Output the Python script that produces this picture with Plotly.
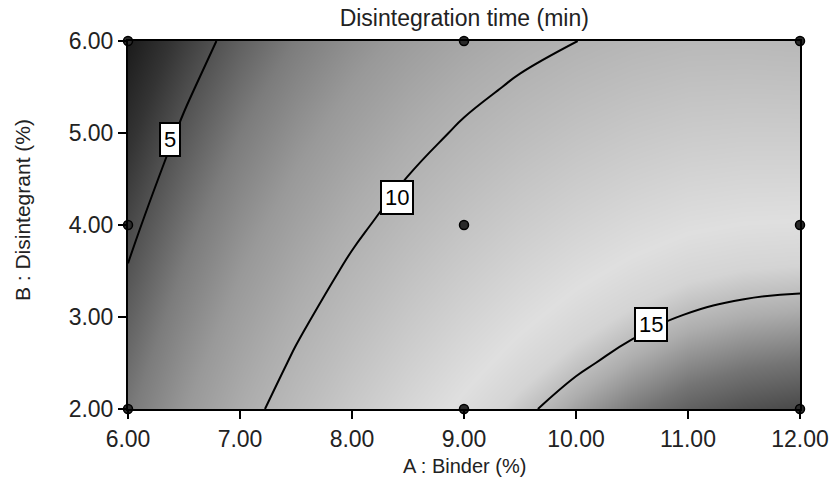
import plotly.graph_objects as go

# ---- data ----
binder = [6.0, 6.5, 7.0, 7.5, 8.0, 8.5, 9.0, 9.5, 10.0, 10.5, 11.0, 11.5, 12.0]   # A : Binder (%)
disintegrant = [2.0, 2.5, 3.0, 3.5, 4.0, 4.5, 5.0, 5.5, 6.0]                      # B : Disintegrant (%)
# Disintegration time (min); rows follow `disintegrant`, columns follow `binder`
time_min = [
    [6.33, 7.93, 9.42, 10.72, 11.91, 12.98, 13.93, 14.77, 15.49, 16.09, 16.58, 16.88, 17.06],
    [5.91, 7.48, 8.93, 10.20, 11.35, 12.39, 13.31, 14.12, 14.80, 15.37, 15.83, 16.09, 16.24],
    [5.49, 7.02, 8.44, 9.68, 10.80, 11.80, 12.69, 13.46, 14.12, 14.65, 15.07, 15.30, 15.42],
    [5.07, 6.57, 7.95, 9.16, 10.25, 11.22, 12.07, 12.81, 13.43, 13.93, 14.32, 14.52, 14.60],
    [4.65, 6.12, 7.47, 8.64, 9.69, 10.63, 11.45, 12.15, 12.74, 13.21, 13.56, 13.73, 13.78],
    [4.23, 5.66, 6.98, 8.12, 9.14, 10.04, 10.83, 11.50, 12.05, 12.49, 12.81, 12.94, 12.96],
    [3.81, 5.21, 6.49, 7.60, 8.58, 9.45, 10.21, 10.84, 11.36, 11.77, 12.05, 12.15, 12.14],
    [3.39, 4.75, 6.00, 7.07, 8.03, 8.87, 9.59, 10.19, 10.68, 11.05, 11.30, 11.36, 11.32],
    [2.97, 4.30, 5.51, 6.55, 7.48, 8.28, 8.97, 9.54, 9.99, 10.33, 10.55, 10.58, 10.50],
]
design_binder = [6, 6, 6, 9, 9, 9, 12, 12, 12]
design_disint = [2, 4, 6, 2, 4, 6, 2, 4, 6]
contour_levels = [5, 10, 15]
label_binder = [6.375, 8.40, 10.67]
label_disint = [4.93, 4.30, 2.92]
tick_a = [6, 7, 8, 9, 10, 11, 12]
tick_b = [2, 3, 4, 5, 6]

FONT = "Liberation Sans, Arial, sans-serif"

gray_scale = [
    [0.000, "#1c1c1c"],
    [0.070, "#343434"],
    [0.140, "#525252"],
    [0.245, "#7c7c7c"],
    [0.350, "#999999"],
    [0.455, "#adadad"],
    [0.560, "#bebebe"],
    [0.664, "#d0d0d0"],
    [0.748, "#dfdfdf"],
    [0.804, "#d4d4d4"],
    [0.860, "#adadad"],
    [0.923, "#747474"],
    [1.000, "#3c3c3c"],
]

fig = go.Figure()
fig.add_trace(go.Heatmap(
    x=binder, y=disintegrant, z=time_min,
    colorscale=gray_scale, zmin=3.0, zmax=17.3,
    zsmooth="best", showscale=False, hoverinfo="skip",
))
fig.add_trace(go.Contour(
    x=binder, y=disintegrant, z=time_min,
    contours=dict(start=contour_levels[0], end=contour_levels[-1],
                  size=contour_levels[1] - contour_levels[0],
                  coloring="none", showlabels=False),
    line=dict(color="black", width=2, smoothing=1.3),
    showscale=False, hoverinfo="skip",
))
fig.add_trace(go.Scatter(
    x=design_binder, y=design_disint, mode="markers",
    marker=dict(size=9, color="#2a2a2a", line=dict(color="black", width=1.5)),
    cliponaxis=False, hoverinfo="skip", showlegend=False,
))

annotations = []
for lev, lx, ly in zip(contour_levels, label_binder, label_disint):
    annotations.append(dict(
        x=lx, y=ly, xref="x", yref="y", text=str(lev), showarrow=False,
        bgcolor="white", bordercolor="black", borderwidth=2, borderpad=3,
        font=dict(family=FONT, size=22, color="black"),
    ))
annotations.append(dict(
    x=0.5, y=-0.155, xref="paper", yref="paper", text="A : Binder (%)",
    showarrow=False, xanchor="center", yanchor="middle",
    font=dict(family=FONT, size=20, color="#222"),
))
annotations.append(dict(
    x=-0.156, y=0.541, xref="paper", yref="paper", text="B : Disintegrant (%)",
    showarrow=False, xanchor="center", yanchor="middle", textangle=-90,
    font=dict(family=FONT, size=21, color="#222"),
))

axis_common = dict(
    showgrid=False, zeroline=False, showline=True, linecolor="black",
    linewidth=2, mirror=True, ticks="outside", ticklen=8, tickwidth=2,
    tickcolor="black", tickformat=".2f", automargin=False,
    tickfont=dict(family=FONT, size=23, color="#222"),
)

fig.update_layout(
    width=835, height=501,
    margin=dict(l=128, r=35, t=41, b=92),
    paper_bgcolor="white", plot_bgcolor="white",
    title=dict(text="Disintegration time (min)", x=0.556, y=0.964,
               xanchor="center", yanchor="middle",
               font=dict(family=FONT, size=23, color="#222")),
    xaxis=dict(range=[6, 12], tickvals=tick_a, **axis_common),
    yaxis=dict(range=[2, 6], tickvals=tick_b, **axis_common),
    annotations=annotations,
    showlegend=False,
)

fig.write_html("out.html", config={"displayModeBar": False},
               post_script="document.body.style.margin='0';")
